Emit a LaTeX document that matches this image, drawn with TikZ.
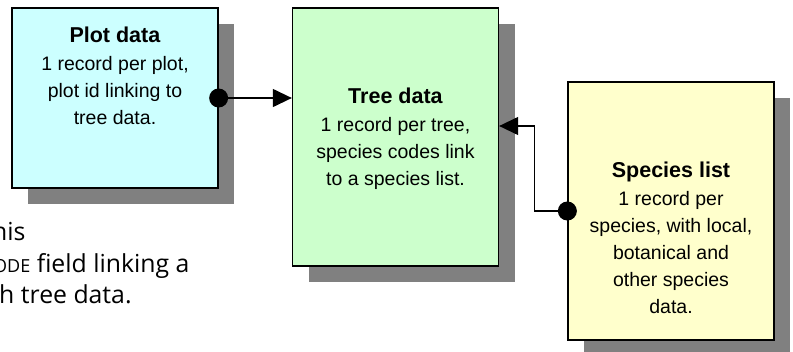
\documentclass[tikz,border=0pt]{standalone}
\usepackage{fontspec}
\setmainfont{Liberation Sans}
\newfontfamily\notefont{Open Sans}
\usetikzlibrary{positioning,shadows,arrows.meta}

\definecolor{plotfill}{HTML}{CCFFFF}
\definecolor{treefill}{HTML}{CCFFCC}
\definecolor{speciesfill}{HTML}{FFFFCC}
\definecolor{shadowgrey}{HTML}{808080}

\tikzstyle{table} = [draw=black,line width=1.3pt,rectangle,minimum width=206pt,inner sep=0pt,drop shadow={shadow xshift=16pt,shadow yshift=-16pt,fill=shadowgrey,opacity=1}]
\tikzstyle{tabletext} = [align=center,inner sep=0pt,font=\fontsize{19.5}{27}\selectfont]
\tikzstyle{link} = [line width=1.3pt,-{Triangle[length=19pt,width=18pt]}]
\tikzstyle{note} = [anchor=base west,inner sep=0pt,font=\notefont\fontsize{24.8}{31}\selectfont]

\begin{document}
\begin{tikzpicture}[x=1pt,y=-1pt]
	\useasboundingbox (0,0) rectangle (793,351);
	% tables
	\node (plot) [table,fill=plotfill,minimum height=180pt] at (115,98) {};
	\node (tree) [table,fill=treefill,minimum height=258pt] at (395.5,137) {};
	\node (species) [table,fill=speciesfill,minimum height=258pt] at (671,211) {};
	% table contents
	\node (plottext) [tabletext,below=19.5pt of plot.north] {\textbf{\fontsize{21.5}{27}\selectfont Plot data}\\[1pt]1 record per plot,\\plot id linking to\\tree data.};
	\node (treetext) [tabletext,below=80.5pt of tree.north] {\textbf{\fontsize{21.5}{27}\selectfont Tree data}\\[1pt]1 record per tree,\\species codes link\\to a species list.};
	\node (speciestext) [tabletext,below=80.5pt of species.north] {\textbf{\fontsize{21.5}{27}\selectfont Species list}\\[1pt]1 record per\\species, with local,\\botanical and\\other species\\data.};
	% links
	\draw [link] (plot.east) -- (plot.east -| tree.west);
	\fill (plot.east) circle (9.5pt);
	\draw [link] (species.west) -- ++(-33,0) |- ([yshift=11pt]tree.east);
	\fill (species.west) circle (9.5pt);
	% note, cut at the left edge
	\node (note1) [note] at (-8,240) {his};
	\node (note2) [note] at (-7,272) {{\fontsize{18}{31}\selectfont ODE} field linking a};
	\node (note3) [note] at (-1,303) {h tree data.};
\end{tikzpicture}
\end{document}
